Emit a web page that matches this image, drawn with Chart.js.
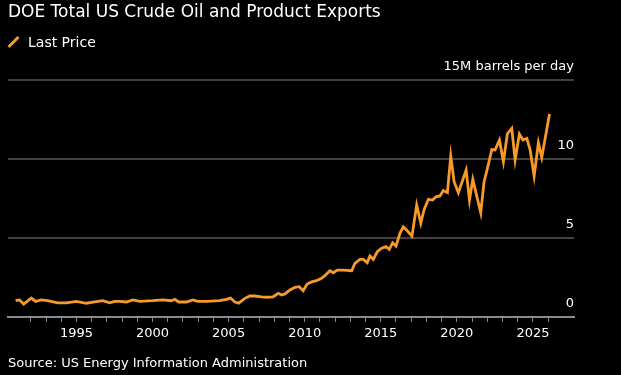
<!DOCTYPE html>
<html lang="en">
<head>
    <meta charset="UTF-8">
    <title>DOE Total US Crude Oil and Product Exports</title>
    <style>
        body, html {
            margin: 0;
            padding: 0;
            background: #000;
            font-family: 'DejaVu Sans', sans-serif;
            color: #fff;
        }
        .wrap {
            position: relative;
            width: 621px;
            height: 375px;
            overflow: hidden;
        }
        canvas { position: absolute; left: 0; top: 0; }
        .title {
            position: absolute; left: 8px; top: 3px;
            font-size: 17px; line-height: 17px; white-space: nowrap;
        }
        .legend {
            position: absolute; left: 28px; top: 35px;
            font-size: 14px; line-height: 14px;
        }
        .legend-mark {
            position: absolute; left: 12px; top: 35px;
            width: 3px; height: 14px; background: #f89a2a;
            transform: rotate(45deg);
        }
        .source {
            position: absolute; left: 8px; top: 356px;
            font-size: 13px; line-height: 13px; white-space: nowrap;
        }
    </style>
    <script src="https://cdn.jsdelivr.net/npm/chart.js"></script>
</head>
<body>
<div class="wrap">
    <canvas id="exportsChart" width="621" height="375"></canvas>
    <div class="title">DOE Total US Crude Oil and Product Exports</div>
    <div class="legend-mark"></div>
    <div class="legend">Last Price</div>
    <div class="source">Source: US Energy Information Administration</div>
</div>

<script>
    // dates as decimal years, values in million barrels per day
    const years = [
        1991.0, 1991.26, 1991.53, 1992.03, 1992.32, 1992.69, 1993.1, 1993.76, 1994.34, 1995.0,
        1995.65, 1996.2, 1996.72, 1997.18, 1997.51, 1997.84, 1998.28, 1998.7, 1999.16, 2000.01,
        2000.67, 2001.24, 2001.46, 2001.72, 2002.23, 2002.64, 2002.97, 2003.55, 2004.42, 2004.86,
        2005.13, 2005.41, 2005.66, 2006.07, 2006.39, 2006.72, 2007.16, 2007.49, 2007.93, 2008.26,
        2008.48, 2008.7, 2009.03, 2009.36, 2009.64, 2009.9, 2010.16, 2010.45, 2010.78, 2011.11,
        2011.33, 2011.66, 2011.88, 2012.14, 2012.53, 2013.09, 2013.3, 2013.63, 2013.85, 2014.11,
        2014.29, 2014.51, 2014.77, 2015.06, 2015.34, 2015.56, 2015.78, 2016.0, 2016.26, 2016.48,
        2016.74, 2017.05, 2017.36, 2017.63, 2017.84, 2018.13, 2018.41, 2018.63, 2018.89, 2019.11,
        2019.38, 2019.6, 2019.82, 2020.1, 2020.61, 2020.83, 2021.05, 2021.57, 2021.79, 2022.01,
        2022.3, 2022.51, 2022.8, 2023.06, 2023.32, 2023.61, 2023.83, 2024.11, 2024.34, 2024.6,
        2024.82, 2025.08, 2025.36, 2025.58, 2026.09
    ];
    const exportsMbd = [
        1.03, 1.08, 0.82, 1.2, 0.99, 1.08, 1.03, 0.9, 0.9, 0.99,
        0.87, 0.95, 1.03, 0.9, 0.99, 0.99, 0.95, 1.08, 0.99, 1.03,
        1.08, 1.03, 1.12, 0.95, 0.95, 1.08, 0.99, 0.99, 1.03, 1.12,
        1.2, 0.95, 0.88, 1.18, 1.33, 1.33, 1.28, 1.25, 1.28, 1.5,
        1.39, 1.46, 1.71, 1.88, 1.92, 1.66, 2.09, 2.22, 2.3, 2.45,
        2.62, 2.93, 2.8, 2.97, 2.97, 2.93, 3.4, 3.65, 3.65, 3.44,
        3.86, 3.65, 4.13, 4.35, 4.45, 4.28, 4.7, 4.49, 5.3, 5.71,
        5.46, 5.12, 7.09, 5.93, 6.77, 7.45, 7.4, 7.61, 7.66, 8.0,
        7.87, 10.19, 8.56, 7.87, 9.3, 7.4, 8.71, 6.6, 8.56, 9.41,
        10.6, 10.57, 11.2, 9.83, 11.6, 11.94, 9.94, 11.58, 11.2, 11.31,
        10.57, 8.92, 11.03, 10.1, 12.85
    ];
    const yTicks = [0, 5, 10, 15];
    const xLabelYears = [1995, 2000, 2005, 2010, 2015, 2020, 2025];
    const unitLabel = '15M barrels per day';

    const points = years.map((x, i) => ({ x: x, y: exportsMbd[i] }));
    const tickFont = { family: "'DejaVu Sans', sans-serif", size: 13 };

    const ctx = document.getElementById('exportsChart').getContext('2d');
    new Chart(ctx, {
        type: 'line',
        data: {
            datasets: [{
                label: 'Last Price',
                data: points,
                borderColor: '#f89a2a',
                borderWidth: 2.8,
                pointRadius: 0,
                tension: 0
            }]
        },
        options: {
            responsive: false,
            animation: false,
            layout: { padding: { top: 80, left: 8, right: 47, bottom: 28 } },
            plugins: {
                legend: { display: false },
                tooltip: { enabled: false }
            },
            scales: {
                x: {
                    type: 'linear',
                    min: 1990.5,
                    max: 2027.7,
                    afterBuildTicks: (scale) => {
                        scale.ticks = scale.ticks.filter(t => Number.isInteger(t.value) && t.value >= 1991 && t.value <= 2026);
                    },
                    afterFit: (scale) => { scale.height = 30; },
                    ticks: {
                        stepSize: 1,
                        autoSkip: false,
                        maxRotation: 0,
                        color: '#fff',
                        font: tickFont,
                        padding: 4,
                        callback: (v) => xLabelYears.includes(v) ? String(v) : ''
                    },
                    grid: {
                        drawOnChartArea: false,
                        drawTicks: true,
                        tickLength: 5,
                        tickColor: '#8a8a8a',
                        lineWidth: 1
                    },
                    border: { color: '#8a8a8a', width: 2 }
                },
                y: {
                    position: 'right',
                    min: 0,
                    max: 15,
                    afterBuildTicks: (scale) => {
                        scale.ticks = yTicks.map(v => ({ value: v }));
                    },
                    ticks: {
                        mirror: true,
                        padding: 0,
                        labelOffset: -13,
                        color: '#fff',
                        font: tickFont,
                        callback: (v) => v === 15 ? unitLabel : String(v)
                    },
                    grid: {
                        drawTicks: false,
                        color: (c) => c.tick && c.tick.value === 0 ? 'rgba(0,0,0,0)' : '#414141',
                        lineWidth: 2
                    },
                    border: { display: false }
                }
            }
        }
    });
</script>
</body>
</html>
